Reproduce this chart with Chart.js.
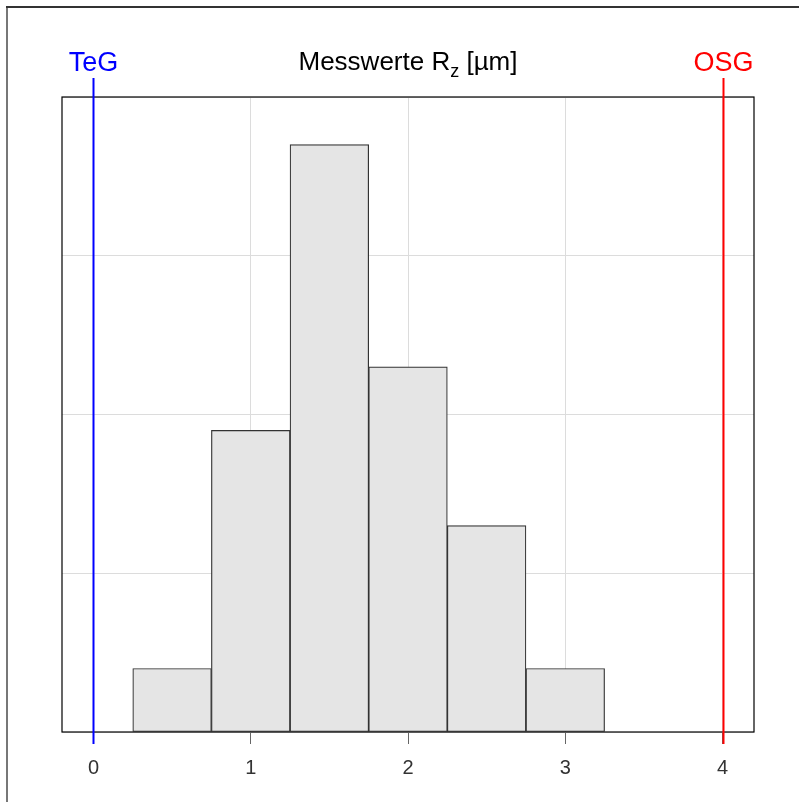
<!DOCTYPE html>
<html>
<head>
<meta charset="utf-8">
<script src="https://cdn.jsdelivr.net/npm/chart.js@4"></script>
<style>
  html, body { margin: 0; padding: 0; background: #fff; }
</style>
</head>
<body>
<canvas id="chart-area" width="799" height="802"></canvas>
<script>
// histogram bins (centres, width 0.5) and bar heights
const binCenters = [0.5, 1.0, 1.5, 2.0, 2.5, 3.0];
const binHeights = [0.4, 1.9, 3.7, 2.3, 1.3, 0.4];
const xTicks = [0, 1, 2, 3, 4];
const yGrid = [0, 1, 2, 3, 4];
const limits = [
  { name: "TeG", value: 0, color: "#0000ff" },
  { name: "OSG", value: 4, color: "#ff0000" },
];

const fontFam = "Arial, 'Liberation Sans', sans-serif";

// frame, plot border, limit lines and the title with subscript
const extras = {
  id: "extras",
  beforeDraw(chart) {
    const c = chart.ctx;
    c.save();
    c.fillStyle = "#fff";
    c.fillRect(0, 0, chart.width, chart.height);
    c.lineWidth = 2;
    c.strokeStyle = "#777";
    c.beginPath(); c.moveTo(7, 7); c.lineTo(7, chart.height); c.stroke();
    c.strokeStyle = "#333";
    c.beginPath(); c.moveTo(6, 7); c.lineTo(chart.width, 7); c.stroke();
    c.restore();
  },
  afterDraw(chart) {
    const c = chart.ctx;
    const a = chart.chartArea;
    const xs = chart.scales.x;
    c.save();
    c.strokeStyle = "#000";
    c.lineWidth = 1.2;
    c.strokeRect(a.left, a.top, a.right - a.left, a.bottom - a.top);

    limits.forEach((l) => {
      const px = Math.round(xs.getPixelForValue(l.value)) + 0.5;
      c.strokeStyle = l.color;
      c.lineWidth = 2;
      c.beginPath();
      c.moveTo(px, a.top - 19);
      c.lineTo(px, a.bottom + 12);
      c.stroke();
      c.fillStyle = l.color;
      c.font = "27px " + fontFam;
      c.textAlign = "center";
      c.textBaseline = "alphabetic";
      c.fillText(l.name, px, 71);
    });

    // title: Messwerte R_z [µm]
    const p1 = "Messwerte R", sub = "z", p2 = " [µm]";
    c.fillStyle = "#000";
    c.textAlign = "left";
    c.font = "26px " + fontFam;
    const w1 = c.measureText(p1).width, w3 = c.measureText(p2).width;
    c.font = "18px " + fontFam;
    const w2 = c.measureText(sub).width;
    let x = 408 - (w1 + w2 + w3) / 2;
    c.font = "26px " + fontFam;
    c.fillText(p1, x, 70);
    x += w1;
    c.font = "18px " + fontFam;
    c.fillText(sub, x, 77);
    x += w2;
    c.font = "26px " + fontFam;
    c.fillText(p2, x, 70);
    c.restore();
  },
};

new Chart("chart-area", {
  type: "bar",
  data: {
    datasets: [
      {
        data: binCenters.map((c, i) => ({ x: c, y: binHeights[i] })),
        backgroundColor: "#e5e5e5",
        borderColor: "#333333",
        borderWidth: 1.2,
        borderSkipped: false,
        barPercentage: 1,
        categoryPercentage: 1,
      },
    ],
  },
  options: {
    responsive: false,
    animation: false,
    devicePixelRatio: 1,
    layout: { padding: { left: 62, right: 45, top: 97, bottom: 10 } },
    plugins: { legend: { display: false }, tooltip: { enabled: false } },
    scales: {
      x: {
        type: "linear",
        offset: false,
        min: -0.2,
        max: 4.2,
        afterBuildTicks: (s) => { s.ticks = xTicks.map((v) => ({ value: v })); },
        grid: { offset: false, color: "#dcdcdc", lineWidth: 1, tickLength: 12, tickColor: "#666", drawTicks: true },
        border: { display: false },
        ticks: { color: "#333", font: { size: 20, family: fontFam }, padding: 12, maxRotation: 0 },
      },
      y: {
        min: 0,
        max: 4,
        afterBuildTicks: (s) => { s.ticks = yGrid.map((v) => ({ value: v })); },
        grid: { color: "#dcdcdc", lineWidth: 1, drawTicks: false },
        border: { display: false },
        ticks: { display: false },
      },
    },
  },
  plugins: [extras],
});
</script>
</body>
</html>
